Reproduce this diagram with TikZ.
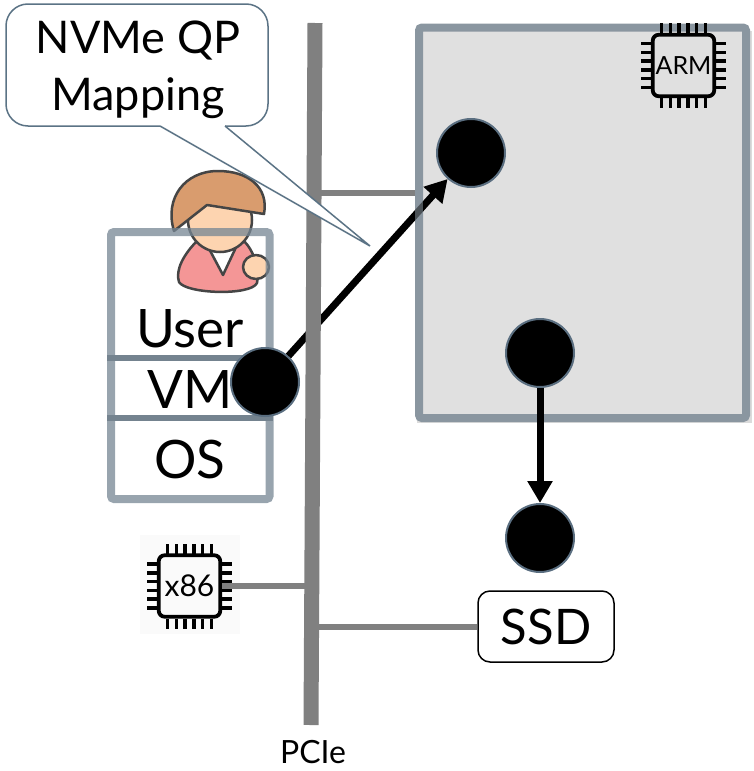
\documentclass[tikz,border=0pt]{standalone}
\usepackage{fontspec}
\setmainfont{Lato}
\usetikzlibrary{arrows.meta}

\definecolor{busgray}{HTML}{808080}
\definecolor{boxfill}{HTML}{E0E0E0}
\definecolor{boxedge}{HTML}{8A96A0}
\definecolor{vmedge}{RGB}{118,134,147}
\definecolor{divline}{HTML}{74838F}
\definecolor{calloutedge}{HTML}{5B7385}
\definecolor{dotedge}{HTML}{5A6E80}
\definecolor{hair}{HTML}{D99C6E}
\definecolor{skin}{HTML}{FDD4B0}
\definecolor{shirt}{HTML}{F49696}
\definecolor{outline}{HTML}{454545}

\newcommand{\fsz}[1]{\fontsize{#1}{#1}\selectfont}
% pins around a chip body node
\newcommand{\chippins}[1]{%
  \foreach \p in {-22,-13.2,-4.4,4.4,13.2,22}{%
    \draw[pin] ([shift={(\p,32.5)}]#1.center) -- ++(0,10);
    \draw[pin] ([shift={(\p,-32.5)}]#1.center) -- ++(0,-10);
    \draw[pin] ([shift={(32.5,\p)}]#1.center) -- ++(10,0);
    \draw[pin] ([shift={(-32.5,\p)}]#1.center) -- ++(-10,0);
  }}

\begin{document}
\begin{tikzpicture}[x=1pt,y=-1pt,
  dot/.style={circle, fill=black, draw=dotedge, line width=2pt,
    minimum size=68pt, inner sep=0pt},
  flow/.style={line width=7pt, -{Triangle[width=24pt,length=22pt]}},
  link/.style={draw=busgray, line width=6pt},
  word/.style={inner sep=0pt, anchor=base},
  chipcore/.style={draw=black, line width=3.8pt, rounded corners=6pt,
    minimum size=61.5pt, inner sep=0pt},
  pin/.style={line width=3.5pt},
]
\useasboundingbox (0,0) rectangle (754,771);

% ---------- device board ----------
\fill[black!14] (417,31) rectangle (752,423);
\node[draw=boxedge, fill=boxfill, line width=8pt, rounded corners=3pt,
  minimum width=327pt, minimum height=390.5pt, inner sep=0pt]
  (soc) at (582.5,222.75) {};

% ARM core
\node[chipcore, font=\fsz{25}] (arm) at (683.5,65.5) {ARM};
\chippins{arm}

% ---------- x86 core ----------
\fill[black!2] (140,535) rectangle (240,634);
\node[chipcore, font=\fsz{30}] (x86) at (189.5,586) {x86};
\chippins{x86}

% ---------- VM with its user ----------
\begin{scope}[line width=2.5pt, draw=outline, line join=round]
  \filldraw[fill=shirt] (197,241) .. controls (184,254) and (175,270) .. (179,282)
    .. controls (186,294) and (251,296) .. (257,283)
    .. controls (260,270) and (254,251) .. (244,241) -- cycle;
  \filldraw[fill=white] (206,243) -- (223,275) -- (238,243) -- cycle;
  \filldraw[fill=skin] (220,220) circle[radius=32];
  \filldraw[fill=skin] (256,267) circle[x radius=13, y radius=12];
  \filldraw[fill=hair] (174,231) -- (207,205) -- (264,214)
    .. controls (269,187) and (248,171) .. (218,171)
    .. controls (185,171) and (164,198) .. (174,231) -- cycle;
\end{scope}

\node[draw=vmedge, draw opacity=0.75, line width=8pt, rounded corners=3pt,
  minimum width=158.5pt, minimum height=267pt, inner sep=0pt]
  (vmbox) at (190.25,365.5) {};
\draw[divline, line width=6pt] (107,358) -- (266,358);
\draw[divline, line width=6pt] (107,418) -- (273,418);

\node[word, font=\fsz{53}] (user) at (190,347) {User};
\node[word, font=\fsz{53}] (vmlabel) at (190,408) {VM};
\node[word, font=\fsz{53}] (os) at (190,478) {OS};

% ---------- queue endpoints ----------
\node[dot] (vm) at (265,382) {};
\node[dot] (c1) at (471,153) {};
\node[dot] (c2) at (540,353) {};
\node[dot] (c3) at (540,538) {};

\draw[flow] (vm) -- (c1);
\draw[flow] (c2) -- (c3);
\draw[boxedge, line width=8pt, opacity=0.55] (419,198) -- (419,226);

% ---------- SSD ----------
\node[draw, line width=1.5pt, rounded corners=12pt, minimum width=136pt,
  minimum height=71pt, inner sep=0pt, font=\fsz{49}] (ssd) at (546,626.5) {SSD};

% ---------- PCIe bus ----------
\coordinate (bustop) at (315,23);
\coordinate (busbot) at (311,725);
\coordinate (bsoc) at (314,193);
\coordinate (bx86) at (311.8,586);
\coordinate (bssd) at (311.6,626.5);
\draw[link] (bsoc) -- (soc.west |- bsoc);
\draw[link] (x86.east) -- (bx86);
\draw[link] (bssd) -- (ssd.west);
\draw[busgray, line width=15pt] (bustop) -- (busbot);
\node[word, font=\fsz{32}] (pcie) at (313,763) {PCIe};

% ---------- callout ----------
\coordinate (tip) at (370,246);
\draw[draw=calloutedge, fill=white, line width=1.5pt, rounded corners=22pt]
  (6,4) rectangle (268,126);
\fill[white] (161,123) -- (224,123) -- (225,126) -- (tip) -- (160,126) -- cycle;
\draw[calloutedge, line width=1.5pt, line join=miter] (160,126) -- (tip) -- (225,126);
\node[word, font=\fsz{45}] (note1) at (138,53) {NVMe QP};
\node[word, font=\fsz{45}] (note2) at (138,110) {Mapping};
\end{tikzpicture}
\end{document}
